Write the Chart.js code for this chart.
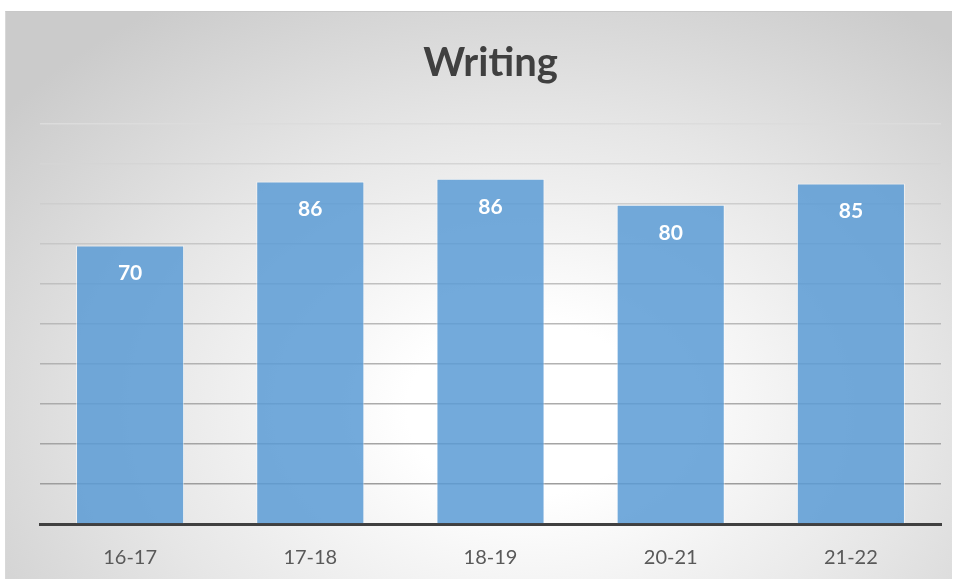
<!DOCTYPE html>
<html>
<head>
<meta charset="utf-8">
<script src="https://cdn.jsdelivr.net/npm/chart.js@4"></script>
<style>
    html, body { margin: 0; padding: 0; background: #fff; }
    #frame {
        position: absolute;
        left: 5px;
        top: 11px;
        width: 947px;
        height: 568px;
        box-sizing: border-box;
        border-top: 1px solid #c8c8c8;
        border-left: 1px solid #d8d8d8;
        background: radial-gradient(ellipse 70% 85% at 55% 70%, #ffffff 0%, #ffffff 18%, #e6e6e6 60%, #cbcbcb 100%);
    }
    #chart { display: block; }
</style>
</head>
<body>
<div id="frame"><canvas id="chart" width="947" height="568"></canvas></div>
<script>
const categories = ["16-17", "17-18", "18-19", "20-21", "21-22"];
const scores = [69.6, 85.6, 86.3, 79.8, 85.1];
const yTicks = [0, 10, 20, 30, 40, 50, 60, 70, 80, 90, 100];

const FONT = "Lato, 'Open Sans', sans-serif";

// white values inside the top of each bar
const barLabels = {
    id: "barLabels",
    afterDatasetsDraw(chart) {
        const { ctx } = chart;
        const meta = chart.getDatasetMeta(0);
        ctx.save();
        ctx.fillStyle = "#ffffff";
        ctx.font = `bold 21px ${FONT}`;
        ctx.textAlign = "center";
        ctx.textBaseline = "middle";
        meta.data.forEach((bar, i) => {
            ctx.fillText(String(Math.round(scores[i])), bar.x, bar.y + 28);
        });
        ctx.restore();
    },
};

new Chart(document.getElementById("chart"), {
    type: "bar",
    data: {
        labels: categories,
        datasets: [
            {
                data: scores,
                backgroundColor: "rgba(91,155,213,0.85)",
                borderColor: "rgba(255,255,255,0.55)",
                borderWidth: 1,
                borderSkipped: "bottom",
                categoryPercentage: 1,
                barPercentage: 0.6,
            },
        ],
    },
    options: {
        responsive: false,
        animation: false,
        layout: { padding: { left: 34, right: 12, top: 0, bottom: -12 } },
        plugins: {
            legend: { display: false },
            tooltip: { enabled: false },
            title: {
                display: true,
                text: "Writing",
                color: "#404040",
                font: { family: FONT, size: 40, weight: "bold" },
                padding: { top: 27, bottom: 37 },
            },
        },
        scales: {
            x: {
                grid: { display: false, drawTicks: false },
                border: { display: true, color: "#404040", width: 3 },
                ticks: {
                    color: "#595959",
                    font: { family: FONT, size: 20 },
                    padding: 22,
                },
            },
            y: {
                min: yTicks[0],
                max: yTicks[yTicks.length - 1],
                afterBuildTicks: (axis) => {
                    axis.ticks = yTicks.map((v) => ({ value: v }));
                },
                ticks: { display: false },
                border: { display: false },
                grid: {
                    drawTicks: false,
                    lineWidth: 1.5,
                    color: (c) => {
                        const v = c.tick ? c.tick.value : 0;
                        const g = Math.round(150 + (v / 100) * 70);
                        return `rgb(${g},${g},${g})`;
                    },
                },
            },
        },
    },
    plugins: [barLabels],
});
</script>
</body>
</html>
